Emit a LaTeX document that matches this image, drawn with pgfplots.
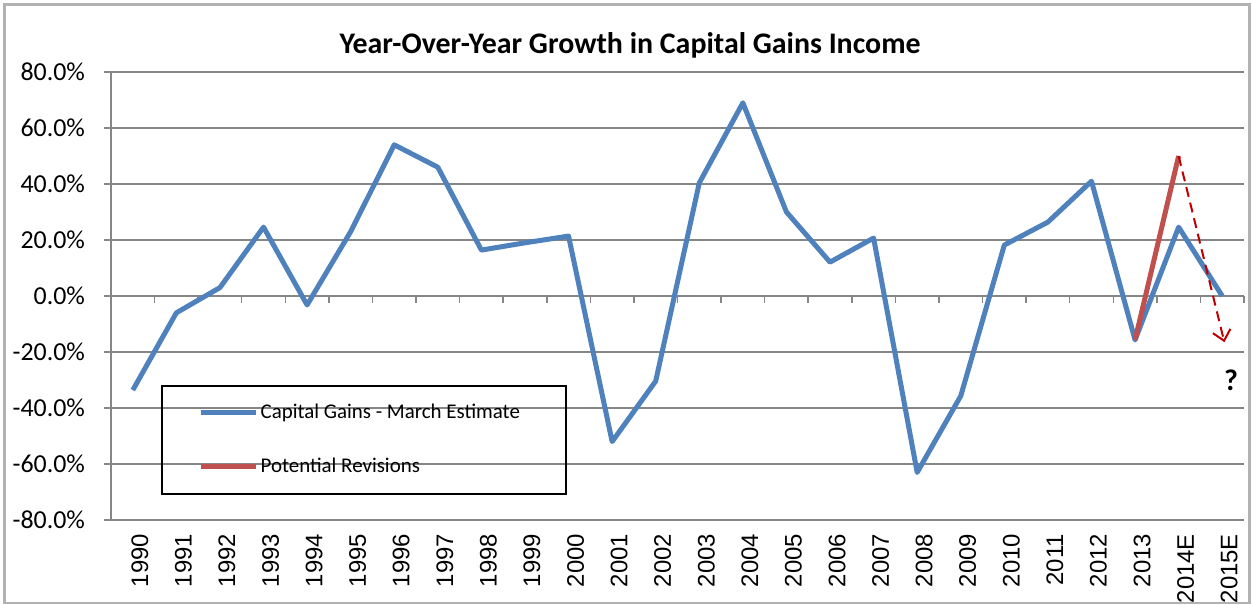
\documentclass[border=0pt]{standalone}
\usepackage{pgfplots}
\pgfplotsset{compat=1.18}
\usepackage{fontspec}
\setmainfont{Carlito}
\newfontfamily\arialf{Liberation Sans}
\usetikzlibrary{arrows.meta}
\definecolor{cgblue}{RGB}{79,129,189}
\definecolor{cgred}{RGB}{192,80,77}
\definecolor{arrowred}{RGB}{192,0,0}
\definecolor{gridgray}{RGB}{134,134,134}
\begin{document}
\begin{tikzpicture}
\useasboundingbox (0,0) rectangle (626bp,302.5bp);
\draw[gray!60, line width=1.3bp] (2.2bp,1bp) rectangle (624.8bp,300.3bp);
\node[font=\fontsize{15}{18}\selectfont\bfseries] at (315bp,280bp) {Year-Over-Year Growth in Capital Gains Income};
\begin{axis}[
  at={(55.5bp,42.5bp)}, anchor=south west,
  scale only axis, width=566.5bp, height=224bp,
  xmin=-0.5, xmax=25.5, ymin=-80, ymax=80,
  axis x line*=bottom, axis y line*=left,
  axis line style={gridgray, line width=0.75bp},
  xtick={0,...,25},
  xticklabels={1990,1991,1992,1993,1994,1995,1996,1997,1998,1999,2000,2001,2002,2003,2004,2005,2006,2007,2008,2009,2010,2011,2012,2013,2014E,2015E},
  xticklabel style={rotate=90, anchor=east, font=\arialf\fontsize{12}{14}\selectfont, yshift=-3.5bp},
  xtick style={draw=none},
  ytick={-80,-60,-40,-20,0,20,40,60,80},
  yticklabels={-80.0\%,-60.0\%,-40.0\%,-20.0\%,0.0\%,20.0\%,40.0\%,60.0\%,80.0\%},
  yticklabel style={font=\fontsize{13}{15}\selectfont, xshift=-6bp},
  ytick style={gridgray, line width=0.75bp},
  tick align=outside, major tick length=3.5bp,
  ymajorgrids, grid style={gridgray, line width=0.75bp},
  legend style={draw=none, fill=none, at={(0.0770,0.1797)}, anchor=west, inner sep=0pt,
    font=\fontsize{10.5}{12}\selectfont, row sep=14.5bp, cells={anchor=west},
    nodes={inner xsep=1bp}},
  legend image code/.code={\draw[#1] (0bp,0bp) -- (27.5bp,0bp);},
  clip=false,
]
\pgfplotsinvokeforeach{-0.5,0.5,...,25.5}{\draw[gridgray, line width=0.75bp] (axis cs:#1,0) -- ([yshift=-3.5bp]axis cs:#1,0);}
\draw[black, line width=0.7bp] (rel axis cs:0.045,0.299) rectangle (rel axis cs:0.4016,0.058);
\addplot[cgblue, line width=2.5bp, line join=round] coordinates {
(0,-33.6) (1,-6) (2,3) (3,24.6) (4,-3.2) (5,23) (6,54) (7,46) (8,16.4) (9,19)
(10,21.4) (11,-52) (12,-30.4) (13,40.4) (14,69) (15,30) (16,12.1) (17,20.7)
(18,-63) (19,-35.7) (20,18.2) (21,26.4) (22,41) (23,-15.7) (24,24.6) (25,0)};
\addlegendentry{Capital Gains - March Estimate}
\addplot[cgred, line width=2.5bp, line join=round] coordinates {(23,-15.7) (24,50)};
\addlegendentry{Potential Revisions}
\addplot[arrowred, line width=1bp, dash pattern=on 5bp off 3bp, -{Straight Barb[length=5bp,width=9bp,line width=1bp]}, forget plot] coordinates {(24,50) (25.05,-16.5)};
\node[font=\fontsize{15}{18}\selectfont\bfseries] at (axis cs:25.2,-30) {?};
\end{axis}
\end{tikzpicture}
\end{document}
